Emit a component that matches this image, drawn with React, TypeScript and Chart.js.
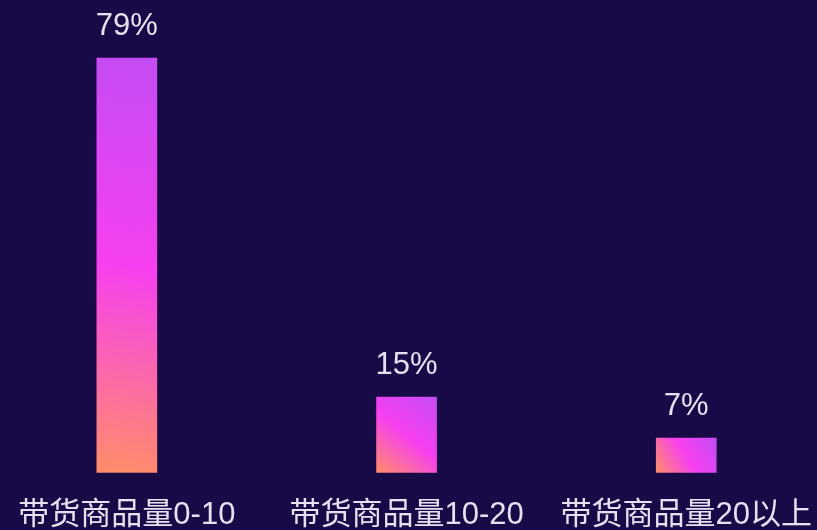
import React, { useEffect, useRef } from "react";
import { Chart, registerables } from "chart.js";

Chart.register(...registerables);

const categories = ["带货商品量0-10", "带货商品量10-20", "带货商品量20以上"];
const shareValues = [79, 14.4, 6.6];
const shareLabels = ["79%", "15%", "7%"];

const BG = "#180a46";
const TEXT = "#e6e1f0";
const FONT = "'Liberation Sans', 'Noto Sans CJK SC', sans-serif";

const valueLabelPlugin = {
  id: "valueLabels",
  afterDatasetsDraw(chart: any) {
    const ctx = chart.ctx;
    const meta = chart.getDatasetMeta(0);
    ctx.save();
    ctx.fillStyle = TEXT;
    ctx.font = `31px ${FONT}`;
    ctx.textAlign = "center";
    ctx.textBaseline = "alphabetic";
    meta.data.forEach((bar: any, i: number) => {
      ctx.fillText(shareLabels[i], bar.x, bar.y - 23);
    });
    ctx.restore();
  },
};

export default function App() {
  const ref = useRef<HTMLCanvasElement | null>(null);
  useEffect(() => {
    document.body.style.margin = "0";
    const canvas = ref.current;
    if (!canvas) return;
    const chart = new Chart(canvas, {
      type: "bar",
      data: {
        labels: categories,
        datasets: [
          {
            data: shareValues,
            barThickness: 60,
            borderWidth: 0,
            backgroundColor: (c: any) => {
              const ch = c.chart;
              const xs = ch.scales && ch.scales.x;
              const ys = ch.scales && ch.scales.y;
              if (!xs || !ys || c.type !== "data" || !ch.chartArea) return "#f040f0";
              const cx = xs.getPixelForValue(c.dataIndex);
              const top = ys.getPixelForValue(c.raw);
              const bottom = ys.getPixelForValue(0);
              if (![cx, top, bottom].every((v) => Number.isFinite(v))) return "#f040f0";
              const g = ch.ctx.createLinearGradient(cx - 30, bottom, cx + 30, top);
              g.addColorStop(0, "#ff8e68");
              g.addColorStop(0.5, "#f63ff0");
              g.addColorStop(1, "#c44cf4");
              return g;
            },
          },
        ],
      },
      options: {
        responsive: false,
        animation: false,
        devicePixelRatio: 1,
        layout: { padding: { top: 8.6, left: 0, right: 0, bottom: 0 } },
        plugins: { legend: { display: false }, tooltip: { enabled: false } },
        scales: {
          x: {
            offset: true,
            grid: { display: false, drawTicks: false, tickLength: 0 },
            border: { display: false },
            ticks: {
              color: TEXT,
              font: { size: 31, family: FONT },
              padding: 24,
              maxRotation: 0,
              autoSkip: false,
            },
          },
          y: { display: false, min: 0, max: 88.4 },
        },
      },
      plugins: [valueLabelPlugin],
    } as any);
    return () => chart.destroy();
  }, []);

  return (
    <div
      style={{
        position: "relative",
        width: 817,
        height: 530,
        overflow: "hidden",
        background: BG,
      }}
    >
      <canvas
        ref={ref}
        width={849}
        height={558}
        style={{ position: "absolute", left: -13, top: 0, width: 849, height: 558 }}
      />
    </div>
  );
}
